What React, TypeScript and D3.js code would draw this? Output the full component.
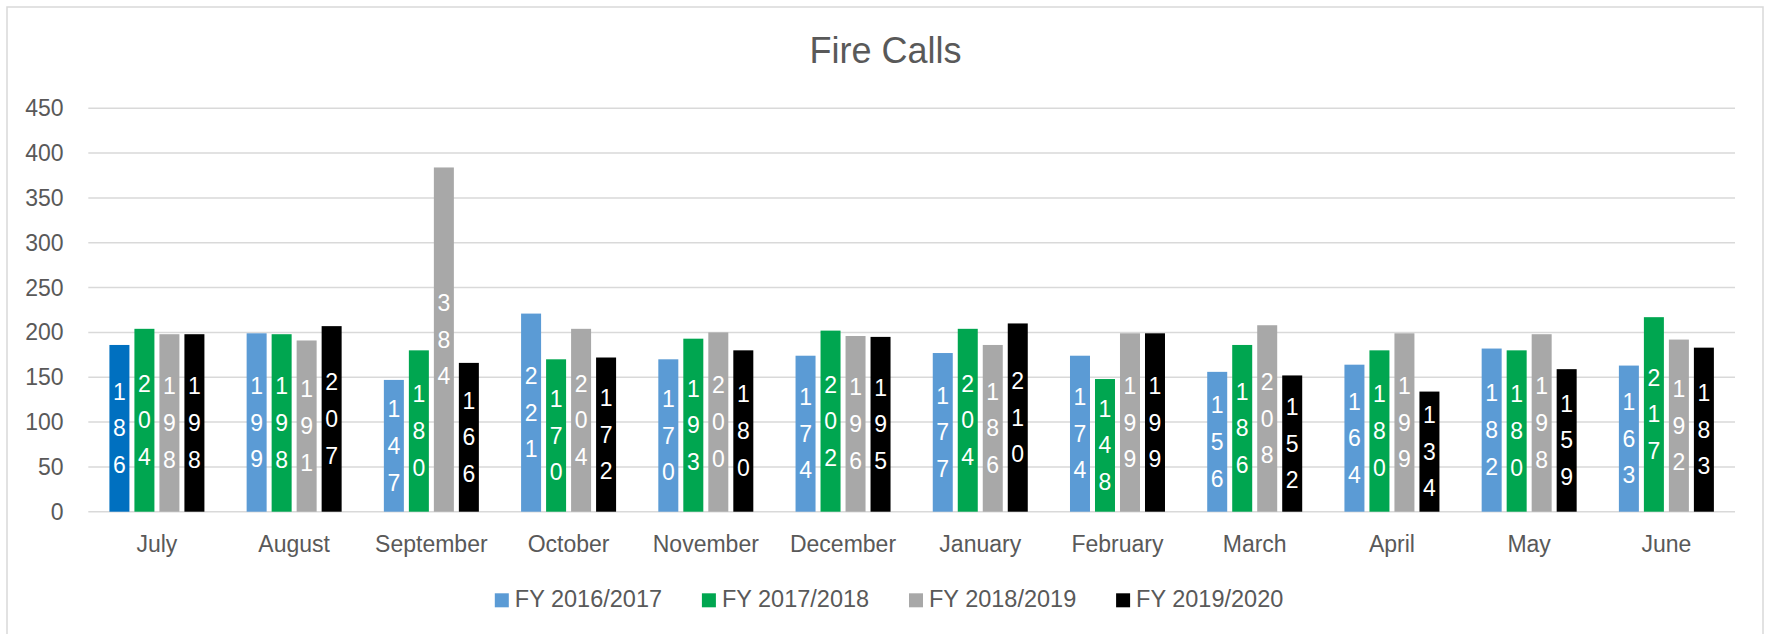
import React from "react";
import * as d3 from "d3";

const months = ["July", "August", "September", "October", "November", "December", "January", "February", "March", "April", "May", "June"];
const seriesNames = ["FY 2016/2017", "FY 2017/2018", "FY 2018/2019", "FY 2019/2020"];
const fy1617 = [186, 199, 147, 221, 170, 174, 177, 174, 156, 164, 182, 163];
const fy1718 = [204, 198, 180, 170, 193, 202, 204, 148, 186, 180, 180, 217];
const fy1819 = [198, 191, 384, 204, 200, 196, 186, 199, 208, 199, 198, 192];
const fy1920 = [198, 207, 166, 172, 180, 195, 210, 199, 152, 134, 159, 183];
const seriesValues = [fy1617, fy1718, fy1819, fy1920];
const seriesColors = ["#5B9BD5", "#00A650", "#A8A8A8", "#000000"];
const highlightedPoint = { series: 0, month: "July", color: "#0070C0" };
const yTicks = [0, 50, 100, 150, 200, 250, 300, 350, 400, 450];

const W = 1765;
const H = 634;
const FONT = "'Liberation Sans', Arial, sans-serif";
const TXT = "#595959";

export default function App() {
  const plotLeft = 88.3;
  const plotRight = 1735;
  const y = d3.scaleLinear().domain([0, 450]).range([511.7, 108.3]);
  const x0 = d3.scaleBand<string>().domain(months).range([plotLeft, plotRight]).padding(0);
  const groupW = 95;
  const x1 = d3.scaleBand<string>().domain(seriesNames).range([0, groupW]).paddingInner(0.2).paddingOuter(0);
  const lineH = 36.7;

  return (
    <svg width={W} height={H} style={{ position: "absolute", left: 0, top: 0, background: "#fff" }} fontFamily={FONT}>
      <rect x={0} y={0} width={W} height={H} fill="#fff" />
      <rect x={7} y={7} width={1756} height={640} fill="none" stroke="#d9d9d9" strokeWidth={1.5} />
      <text x={885.5} y={63.3} textAnchor="middle" fontSize={36} fill={TXT}>Fire Calls</text>

      {yTicks.map((t) => (
        <g key={t}>
          <line x1={plotLeft} x2={plotRight} y1={y(t)} y2={y(t)} stroke="#d9d9d9" strokeWidth={1.5} />
          <text x={63.5} y={y(t)} dy="0.35em" textAnchor="end" fontSize={23} fill={TXT}>{t}</text>
        </g>
      ))}

      {months.map((m, mi) => {
        const gx = (x0(m) as number) + (x0.bandwidth() - groupW) / 2;
        return (
          <g key={m}>
            {seriesNames.map((s, si) => {
              const v = seriesValues[si][mi];
              const bx = gx + (x1(s) as number);
              const bw = x1.bandwidth();
              const top = y(v);
              const base = y(0);
              const color = highlightedPoint.series === si && highlightedPoint.month === m ? highlightedPoint.color : seriesColors[si];
              const digits = String(v).split("");
              const cy = (top + base) / 2;
              return (
                <g key={s}>
                  <rect x={bx} y={top} width={bw} height={base - top} fill={color} />
                  {digits.map((d, di) => (
                    <text
                      key={di}
                      x={bx + bw / 2}
                      y={cy + (di - (digits.length - 1) / 2) * lineH}
                      dy="0.35em"
                      textAnchor="middle"
                      fontSize={23}
                      fill="#ffffff"
                    >
                      {d}
                    </text>
                  ))}
                </g>
              );
            })}
            <text x={(x0(m) as number) + x0.bandwidth() / 2} y={551.7} textAnchor="middle" fontSize={23} fill={TXT}>{m}</text>
          </g>
        );
      })}

      {seriesNames.map((s, si) => {
        const lx = 494.8 + si * 207.1;
        return (
          <g key={s}>
            <rect x={lx} y={593.3} width={14} height={14} fill={seriesColors[si]} />
            <text x={lx + 20} y={607.3} fontSize={23.5} fill={TXT}>{s}</text>
          </g>
        );
      })}
    </svg>
  );
}
